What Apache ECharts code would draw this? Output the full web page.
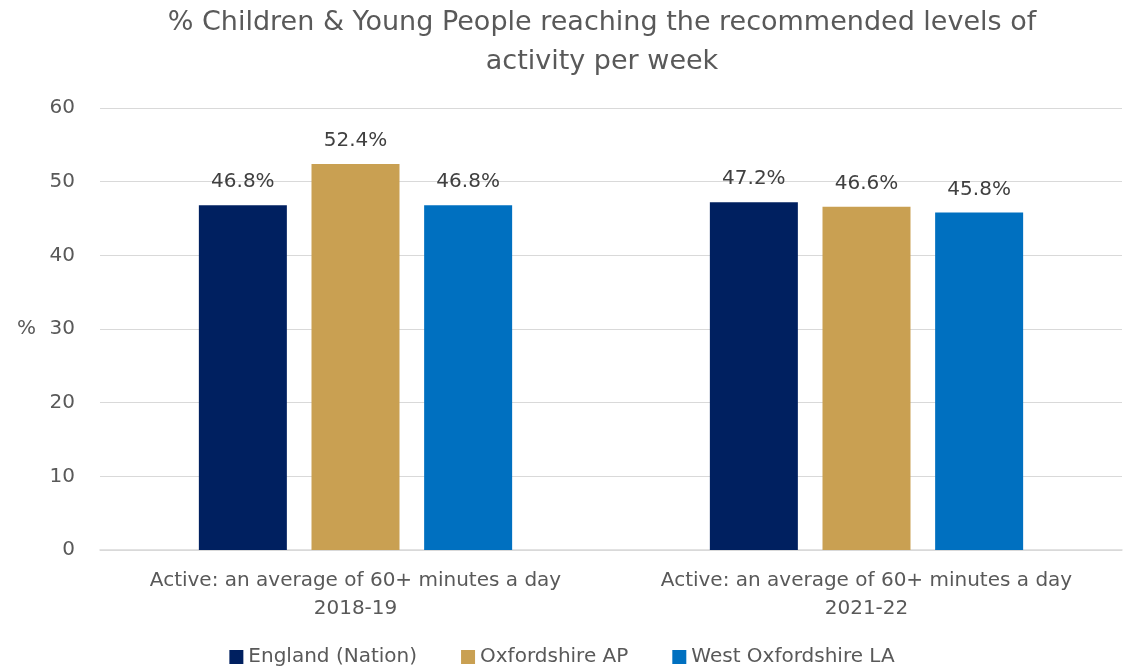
<!DOCTYPE html>
<html>
<head>
<meta charset="utf-8">
<script src="https://cdn.jsdelivr.net/npm/echarts@6/dist/echarts.min.js"></script>
<style>
  html, body { margin: 0; padding: 0; background: #fff; }
  #chart { width: 1124px; height: 671px; }
</style>
</head>
<body>
<div id="chart"></div>
<script>
  // categories and values
  const categories = [
    'Active: an average of 60+ minutes a day\n2018-19',
    'Active: an average of 60+ minutes a day\n2021-22'
  ]
  const seriesNames = ['England (Nation)', 'Oxfordshire AP', 'West Oxfordshire LA']
  const englandValues = [46.8, 47.2]
  const oxfordshireValues = [52.4, 46.6]
  const westOxValues = [46.8, 45.8]
  const colors = ['#002060', '#C9A052', '#0070C0']

  const font = "'DejaVu Sans', sans-serif"
  const valuesList = [englandValues, oxfordshireValues, westOxValues]

  const chart = echarts.init(document.getElementById('chart'))
  chart.setOption({
    animation: false,
    textStyle: { fontFamily: font },
    title: {
      text: '% Children & Young People reaching the recommended levels of\nactivity per week',
      left: 597,
      textAlign: 'center',
      top: -2,
      textStyle: { fontSize: 27, fontWeight: 'normal', color: '#595959', lineHeight: 39, fontFamily: font }
    },
    legend: {
      bottom: -1,
      left: 'center',
      itemWidth: 14,
      itemHeight: 14,
      itemGap: 44,
      icon: 'rect',
      textStyle: { fontSize: 20, color: '#595959', fontFamily: font },
      data: seriesNames
    },
    grid: { left: 100, right: 2, top: 108, bottom: 121, containLabel: false },
    xAxis: {
      type: 'category',
      data: categories,
      axisTick: { show: false },
      axisLine: { lineStyle: { color: '#d9d9d9', width: 1.5 } },
      axisLabel: { interval: 0, fontSize: 20, color: '#595959', lineHeight: 28, margin: 17, fontFamily: font }
    },
    yAxis: {
      type: 'value',
      min: 0,
      max: 60,
      interval: 10,
      name: '%',
      nameLocation: 'middle',
      nameRotate: 0,
      nameGap: 64,
      nameTextStyle: { fontSize: 20, color: '#595959', fontFamily: font },
      axisLine: { show: false },
      axisTick: { show: false },
      splitLine: { lineStyle: { color: '#d9d9d9', width: 1.2 } },
      axisLabel: { fontSize: 20, color: '#595959', margin: 25, fontFamily: font }
    },
    series: seriesNames.map((name, i) => ({
      name: name,
      type: 'bar',
      data: valuesList[i],
      barWidth: 88,
      barGap: '28%',
      itemStyle: { color: colors[i] },
      label: {
        show: true,
        position: 'top',
        distance: 13,
        fontSize: 20,
        color: '#404040',
        fontFamily: font,
        formatter: p => p.value.toFixed(1) + '%'
      }
    }))
  })
</script>
</body>
</html>
